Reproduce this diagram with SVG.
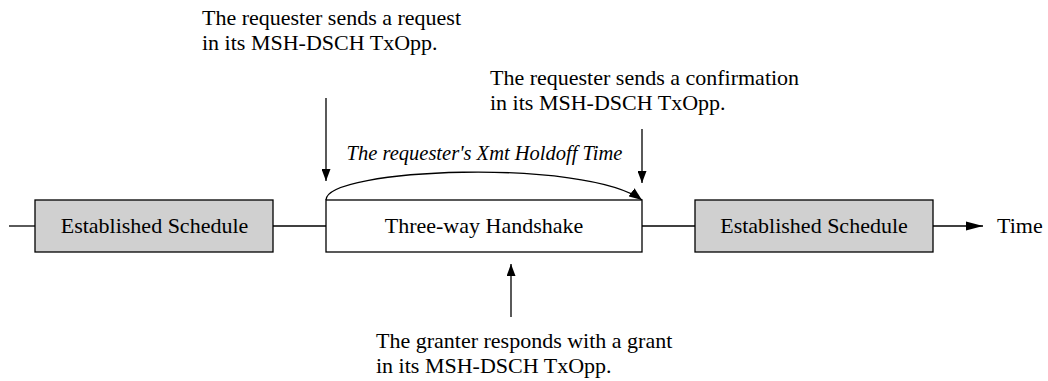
<svg xmlns="http://www.w3.org/2000/svg" width="1048" height="381" viewBox="0 0 1048 381">
  <style>
    text { font-family: "Liberation Serif", "Times New Roman", serif; font-size: 22px; fill: #000; }
    .mid { text-anchor: middle; }
    .note { font-style: italic; font-size: 20.5px; }
    .box { stroke: #000; stroke-width: 1.3; }
    .plain { fill: #fff; }
    .shaded { fill: #d0d0d0; }
    .wire { stroke: #000; stroke-width: 1.3; fill: none; }
  </style>
  <defs>
    <marker id="head" markerWidth="13" markerHeight="9" refX="12" refY="4.5" orient="auto" markerUnits="userSpaceOnUse">
      <path d="M0,0 L12,4.5 L0,9 Z" fill="#000"/>
    </marker>
    <marker id="headArc" markerWidth="14" markerHeight="10" refX="13" refY="5" orient="auto" markerUnits="userSpaceOnUse">
      <path d="M0,0 L13,5 L0,10 Z" fill="#000"/>
    </marker>
    <marker id="headLong" markerWidth="18" markerHeight="10" refX="17" refY="5" orient="auto" markerUnits="userSpaceOnUse">
      <path d="M0,0.5 L17,5 L0,9.5 Z" fill="#000"/>
    </marker>
  </defs>

  <rect width="1048" height="381" fill="#fff"/>

  <!-- timeline segments and pointers -->
  <g id="connectors">
    <line class="wire" x1="9" y1="226" x2="35" y2="226"/>
    <line class="wire" x1="273" y1="226" x2="326" y2="226"/>
    <line class="wire" x1="642" y1="226" x2="695" y2="226"/>
    <line class="wire" x1="933" y1="226" x2="983" y2="226" marker-end="url(#headLong)"/>
    <line class="wire" x1="326" y1="98" x2="326" y2="181" marker-end="url(#head)"/>
    <line class="wire" x1="642" y1="129" x2="642" y2="183" marker-end="url(#head)"/>
    <line class="wire" x1="511" y1="317" x2="511" y2="264" marker-end="url(#head)"/>
    <path class="wire" d="M326,200 C326,168 585,158 642,200" marker-end="url(#headArc)"/>
  </g>

  <g id="schedule-before">
    <rect class="box shaded" x="35" y="200" width="238" height="52"/>
    <text class="mid" x="154.5" y="232.5">Established Schedule</text>
  </g>

  <g id="handshake">
    <rect class="box plain" x="326" y="200" width="316" height="52"/>
    <text class="mid" x="484" y="232.5">Three-way Handshake</text>
  </g>

  <g id="schedule-after">
    <rect class="box shaded" x="695" y="200" width="238" height="52"/>
    <text class="mid" x="814" y="232.5">Established Schedule</text>
  </g>

  <g id="time-label">
    <text x="997" y="232.5">Time</text>
  </g>

  <g id="holdoff-label">
    <text class="note mid" x="484.5" y="160">The requester's Xmt Holdoff Time</text>
  </g>

  <g id="request-note">
    <text x="202" y="25">The requester sends a request</text>
    <text x="202" y="49.5">in its MSH-DSCH TxOpp.</text>
  </g>

  <g id="confirmation-note">
    <text x="490" y="85">The requester sends a confirmation</text>
    <text x="490" y="109.5">in its MSH-DSCH TxOpp.</text>
  </g>

  <g id="grant-note">
    <text x="376" y="348">The granter responds with a grant</text>
    <text x="376" y="372.5">in its MSH-DSCH TxOpp.</text>
  </g>
</svg>
